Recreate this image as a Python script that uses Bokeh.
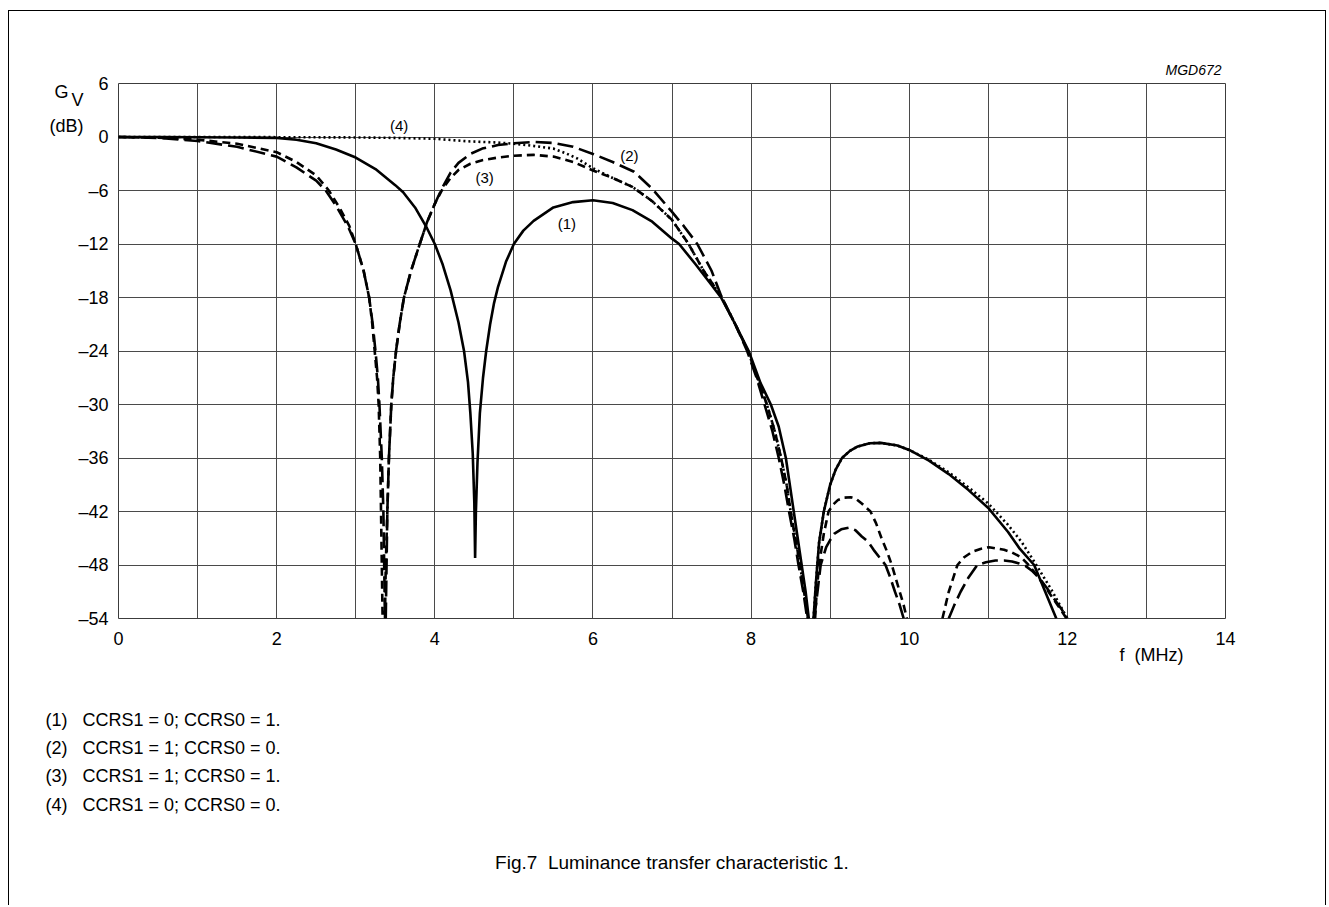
from bokeh.plotting import figure
from bokeh.models import Range1d, FixedTicker, Label, Title
from bokeh.embed import file_html
from bokeh.resources import INLINE

nan = float("nan")
NB = "\u00a0"

# ---------------- data ----------------
x_ticks = [0, 2, 4, 6, 8, 10, 12, 14]
y_ticks = [-54, -48, -42, -36, -30, -24, -18, -12, -6, 0, 6]

# (1) CCRS1 = 0; CCRS0 = 1.  (solid)
c1_x = [0, 0.5, 1.0, 1.5, 2.0, 2.25, 2.5, 2.75, 3.0, 3.25, 3.5, 3.6, 3.75, 3.9, 4.0, 4.1, 4.2, 4.3,
        4.37, 4.42, 4.45, 4.48, 4.5, 4.51, 4.52, 4.54, 4.57, 4.61, 4.65, 4.7, 4.75, 4.8, 4.9, 5.0,
        5.12, 5.25, 5.5, 5.75, 6.0, 6.25, 6.5, 6.75, 7.0, 7.09, 7.3, 7.5, 7.62, 7.8, 7.97, 8.12,
        8.25, 8.35, 8.44, 8.49, 8.54, 8.59, 8.64, 8.69, 8.73, nan,
        8.79, 8.82, 8.86, 8.92, 9.0, 9.07, 9.15, 9.25, 9.35, 9.5, 9.64, 9.85, 10.0, 10.25, 10.5,
        10.75, 11.0, 11.25, 11.4, 11.58, 11.72, 11.86]
c1_y = [0, 0, -0.02, -0.05, -0.1, -0.3, -0.7, -1.4, -2.3, -3.6, -5.4, -6.2, -7.9, -10.2, -12.0, -14.3,
        -17.2, -20.8, -24, -27.5, -31, -35.5, -41, -47.2, -42, -36.5, -31, -27, -24, -21, -18.6,
        -16.8, -14, -12, -10.5, -9.4, -7.9, -7.3, -7.1, -7.4, -8.2, -9.5, -11.4, -12, -14.3, -16.6,
        -18, -21, -24, -27.6, -30, -32.5, -36, -39, -42, -45, -48, -51, -54, nan,
        -54, -50, -45.5, -42, -39, -37.3, -36.0, -35.2, -34.7, -34.35, -34.3, -34.6, -35.1, -36.3,
        -37.8, -39.6, -41.6, -44.3, -46.2, -48, -51, -54]

# (2) CCRS1 = 1; CCRS0 = 0.  (long dash)
c2_x = [0, 0.5, 1.0, 1.5, 2.0, 2.25, 2.5, 2.62, 2.75, 2.9, 3.0, 3.1, 3.17, 3.215, 3.25, 3.28, 3.3,
        3.33, 3.35, 3.36, 3.37, nan, 3.38, 3.39, 3.4, 3.42, 3.435, 3.45, 3.475, 3.51, 3.555, 3.61,
        3.7, 3.81, 3.9, 4.0, 4.1, 4.2, 4.3, 4.45, 4.6, 4.8, 5.0, 5.26, 5.5, 5.75, 6.0, 6.25, 6.52,
        6.75, 7.0, 7.15, 7.32, 7.5, 7.63, 7.8, 7.95, 8.07, 8.17, 8.27, 8.35, 8.42, 8.48, 8.545, 8.6,
        8.66, 8.71, nan,
        8.8, 8.84, 8.88, 8.95, 9.0, 9.05, 9.14, 9.24, 9.32, 9.4, 9.48, 9.55, 9.62, 9.7, 9.76, 9.82,
        9.88, 9.93, nan,
        10.5, 10.57, 10.65, 10.75, 10.86, 10.97, 11.09, 11.2, 11.3, 11.38, 11.47, 11.56, 11.65,
        11.75, 11.85, 11.93, 12.0]
c2_y = [0, -0.1, -0.45, -1.1, -2.2, -3.4, -4.9, -6, -7.7, -10, -12, -15, -18, -21, -24, -27, -30,
        -36, -42, -48, -54, nan, -54, -48, -42, -36, -33, -30, -27, -24, -21, -18,
        -15, -12, -9.6, -7.5, -5.6, -4.0, -2.9, -1.9, -1.3, -0.9, -0.7, -0.56, -0.67, -1.1, -1.9,
        -2.8, -3.9, -5.8, -8.4, -10, -12, -15, -18, -21, -24, -27, -30, -33, -36, -39, -42, -45,
        -48, -51, -54, nan,
        -54, -51, -48, -46, -45.2, -44.5, -44.0, -43.8, -44.1, -44.8, -45.4, -46.3, -47.1, -48,
        -49.4, -51, -52.5, -54, nan,
        -54, -52.5, -51, -49.4, -48, -47.7, -47.5, -47.5, -47.6, -47.8, -48.1, -48.7, -49.5,
        -50.7, -52, -53, -54]

# (3) CCRS1 = 1; CCRS0 = 1.  (short dash)
c3_x = [0, 0.5, 1.0, 1.5, 2.0, 2.25, 2.5, 2.66, 2.8, 2.92, 3.0, 3.1, 3.17, 3.21, 3.24, 3.27, 3.29,
        3.31, 3.32, 3.33, 3.34, nan, 3.37, 3.38, 3.4, 3.42, 3.435, 3.45, 3.475, 3.51, 3.555, 3.61,
        3.7, 3.81, 3.9, 4.0, 4.1, 4.2, 4.3, 4.45, 4.6, 4.8, 5.0, 5.25, 5.5, 5.75, 6.0, 6.25, 6.5,
        6.75, 7.0, 7.21, 7.4, 7.63, 7.8, 7.96, 8.08, 8.2, 8.3, 8.38, 8.45, 8.5, 8.56, 8.62, 8.67,
        8.72, nan,
        8.81, 8.83, 8.86, 8.92, 8.98, 9.04, 9.1, 9.18, 9.26, 9.33, 9.4, 9.51, 9.58, 9.65, 9.72, 9.78,
        9.83, 9.88, 9.93, 9.97, nan,
        10.42, 10.5, 10.61, 10.7, 10.8, 10.9, 11.01, 11.2, 11.3, 11.41, 11.5, 11.6, 11.7, 11.8,
        11.9, 11.99]
c3_y = [0, -0.07, -0.3, -0.75, -1.7, -2.8, -4.3, -6, -8, -10, -12, -15, -18, -21, -24, -27, -30,
        -36, -42, -48, -54, nan, -54, -48, -42, -36, -33, -30, -27, -24, -21, -18,
        -15, -12, -9.6, -7.5, -5.8, -4.6, -3.7, -3.0, -2.6, -2.3, -2.1, -2.0, -2.2, -2.8, -3.75,
        -4.6, -5.6, -7.2, -9.3, -12, -15, -18, -21, -24, -27, -30, -33, -36, -39, -42, -45, -48,
        -51, -54, nan,
        -54, -51, -48, -44.5, -42, -41.2, -40.7, -40.45, -40.4, -40.6, -41.1, -42, -43.3, -45,
        -46.5, -48, -49.5, -51, -52.5, -54, nan,
        -54, -51, -48, -47.1, -46.5, -46.2, -46.0, -46.3, -46.6, -47.1, -47.9, -49, -50.2, -51.5,
        -52.8, -54]

# (4) CCRS1 = 0; CCRS0 = 0.  (dotted)
c4_x = [0, 1, 2, 3, 3.5, 4.0, 4.45, 4.75, 5.0, 5.25, 5.5, 5.65, 5.8, 6.0, 6.25, 6.5, 6.75, 7.0, 7.21,
        7.4, 7.63, 7.8, 7.96, 8.08, 8.2, 8.3, 8.38, 8.45, 8.5, 8.56, 8.62, 8.67, 8.72, nan,
        8.79, 8.82, 8.86, 8.92, 9.0, 9.07, 9.15, 9.25, 9.35, 9.5, 9.64, 9.85, 10.0, 10.25, 10.5,
        10.75, 11.0, 11.25, 11.42, 11.58, 11.8, 12.0]
c4_y = [0, 0, -0.02, -0.05, -0.1, -0.2, -0.5, -0.6, -0.75, -1.0, -1.3, -1.8, -2.4, -3.5, -4.6, -5.6,
        -7.2, -9.3, -12, -15, -18, -21, -24, -27, -30, -33, -36, -39, -42, -45, -48, -51, -54, nan,
        -54, -50, -45.5, -42, -39, -37.3, -36.0, -35.2, -34.7, -34.35, -34.3, -34.6, -35.1, -36.2,
        -37.6, -39.3, -41.1, -43.5, -45.4, -47.6, -50.8, -54]

curve_tags = ["(1)", "(2)", "(3)", "(4)"]
tag_x = [5.67, 6.46, 4.63, 3.55]
tag_y = [-9.7, -2.1, -4.5, 1.3]

y_name_ticks = [5.0, 4.2, 1.2]          # rows of the "G", "V" and "(dB)" axis name
y_name_text = ["G", "V", "(dB)"]
x_name = "f" + NB + " (MHz)"

notes = ["(1)" + NB * 3 + "CCRS1 = 0; CCRS0 = 1.",
         "(2)" + NB * 3 + "CCRS1 = 1; CCRS0 = 0.",
         "(3)" + NB * 3 + "CCRS1 = 1; CCRS0 = 1.",
         "(4)" + NB * 3 + "CCRS1 = 0; CCRS0 = 0."]
caption = "Fig.7" + NB + " Luminance transfer characteristic 1."
code = "MGD672"

# ---------------- figure ----------------
FONT = "Liberation Sans"
W, H = 1329, 905
FL, FT, FW, FH = 118, 83, 1107, 535

p = figure(frame_width=FW, frame_height=FH, output_backend="svg", toolbar_location=None,
           x_range=Range1d(0, 14), y_range=Range1d(-54, 6),
           min_border_left=FL, min_border_right=W - FL - FW, min_border_top=FT,
           min_border_bottom=H - FT - FH)
p.background_fill_color = "white"
p.border_fill_alpha = 0
p.outline_line_color = "#3c3c3c"
p.outline_line_width = 1
# sheet box around the whole figure (left, right and top rules)
p.styles = {
    "background": ("linear-gradient(#000,#000) 8px 10px / 1px 2000px no-repeat, "
                   "linear-gradient(#000,#000) 1325px 10px / 1px 2000px no-repeat, "
                   "linear-gradient(#000,#000) 8px 10px / 1318px 1px no-repeat, white"),
}

for ax in (p.xaxis[0], p.yaxis[0]):
    ax.axis_line_color = None
    ax.major_tick_line_color = None
    ax.minor_tick_line_color = None
    ax.major_tick_out = 0
    ax.major_tick_in = 0
    ax.minor_tick_out = 0
    ax.major_label_text_font = FONT
    ax.major_label_text_font_size = "18px"
    ax.major_label_text_color = "black"

p.xaxis.ticker = FixedTicker(ticks=x_ticks)
p.xaxis.major_label_standoff = 13
p.yaxis.ticker = FixedTicker(ticks=y_ticks + y_name_ticks)
p.yaxis.major_label_standoff = 10
ovr = {t: str(t).replace("-", "\u2013") for t in y_ticks}
ovr[y_name_ticks[0]] = y_name_text[0] + NB * 8
ovr[y_name_ticks[1]] = y_name_text[1] + NB * 5
ovr[y_name_ticks[2]] = y_name_text[2] + NB * 5
p.yaxis.major_label_overrides = ovr

p.xgrid.ticker = FixedTicker(ticks=list(range(0, 15)))
p.ygrid.ticker = FixedTicker(ticks=y_ticks)
for g in (p.xgrid[0], p.ygrid[0]):
    g.grid_line_color = "#4a4a4a"
    g.grid_line_width = 1
    g.grid_line_alpha = 1

LW = 2.6
p.line(c4_x, c4_y, line_color="black", line_width=LW, line_dash="2 3")
p.line(c3_x, c3_y, line_color="black", line_width=LW, line_dash="8 5")
p.line(c2_x, c2_y, line_color="black", line_width=LW, line_dash="16 6")
p.line(c1_x, c1_y, line_color="black", line_width=LW)

for t, tx, ty in zip(curve_tags, tag_x, tag_y):
    p.add_layout(Label(x=tx, y=ty, text=t, text_font=FONT, text_font_size="15px",
                       text_align="center", text_baseline="middle", text_color="black"))

# texts around the frame
p.add_layout(Title(text=code, align="right", offset=4, vertical_align="bottom", standoff=12,
                   text_font=FONT, text_font_size="14px", text_font_style="italic",
                   text_color="black"), "above")
p.add_layout(Title(text=x_name, align="right", offset=42, vertical_align="top", standoff=-6,
                   text_font=FONT, text_font_size="18px", text_font_style="normal",
                   text_color="black"), "below")
p.add_layout(Title(text="\n".join(notes), align="left", offset=45 - FL, vertical_align="top",
                   standoff=92, text_font=FONT, text_font_size="18px", text_font_style="normal",
                   text_line_height=1.42, text_color="black"), "below")
p.add_layout(Title(text=caption, align="center", vertical_align="top", standoff=-22,
                   text_font=FONT, text_font_size="19px", text_font_style="normal",
                   text_color="black"), "below")

open("out.html", "w").write(file_html(p, INLINE))
